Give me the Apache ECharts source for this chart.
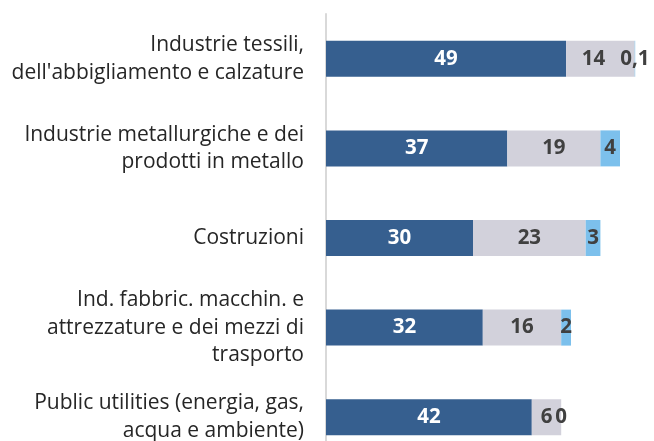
<!DOCTYPE html>
<html><head><meta charset="utf-8">
<script src="https://cdn.jsdelivr.net/npm/echarts@6/dist/echarts.min.js"></script>
<style>html,body{margin:0;padding:0;background:#fff}#c{width:654px;height:441px}</style>
</head><body><div id="c"></div>
<script>
var categories = [
  "Industrie tessili,\ndell'abbigliamento e calzature",
  "Industrie metallurgiche e dei\nprodotti in metallo",
  "Costruzioni",
  "Ind. fabbric. macchin. e\nattrezzature e dei mezzi di\ntrasporto",
  "Public utilities (energia, gas,\nacqua e ambiente)"
];
var seriesA = [49, 37, 30, 32, 42];
var seriesB = [14, 19, 23, 16, 6];
var seriesC = [0.1, 4, 3, 2, 0];

function fmt(p){ return String(p.value).replace('.', ','); }
var lblFont = {fontFamily: "Open Sans", fontWeight: "bold", fontSize: 20.5};

// Excel nudged the first grey label left to avoid the tiny "0,1" label
var seriesBData = seriesB.map(function (v, i) {
  return i === 0 ? {value: v, label: {offset: [-7, 0]}} : v;
});

var chart = echarts.init(document.getElementById('c'));
chart.setOption({
  animation: false,
  grid: {left: 326, top: 14, width: 490, height: 448, containLabel: false, outerBoundsMode: 'none'},
  xAxis: {type: 'value', min: 0, max: 100, show: false},
  yAxis: {
    type: 'category', data: categories, inverse: true,
    axisTick: {show: false},
    axisLine: {show: true, lineStyle: {color: '#D9D9D9', width: 2}},
    axisLabel: {margin: 22, color: '#262626', fontFamily: "Open Sans", fontSize: 21, lineHeight: 27.5, align: 'right'}
  },
  series: [
    {type: 'bar', stack: 't', data: seriesA, barWidth: 36, itemStyle: {color: '#365F8F'},
     label: Object.assign({show: true, position: 'inside', color: '#FFFFFF', formatter: fmt}, lblFont)},
    {type: 'bar', stack: 't', data: seriesBData, barWidth: 36, itemStyle: {color: '#D2D1DB'},
     label: Object.assign({show: true, position: 'inside', color: '#404040', formatter: fmt}, lblFont)},
    {type: 'bar', stack: 't', data: seriesC, barWidth: 36, itemStyle: {color: '#7CC0EC'},
     label: Object.assign({show: true, position: 'inside', color: '#404040', formatter: fmt}, lblFont)}
  ]
});
</script></body></html>
